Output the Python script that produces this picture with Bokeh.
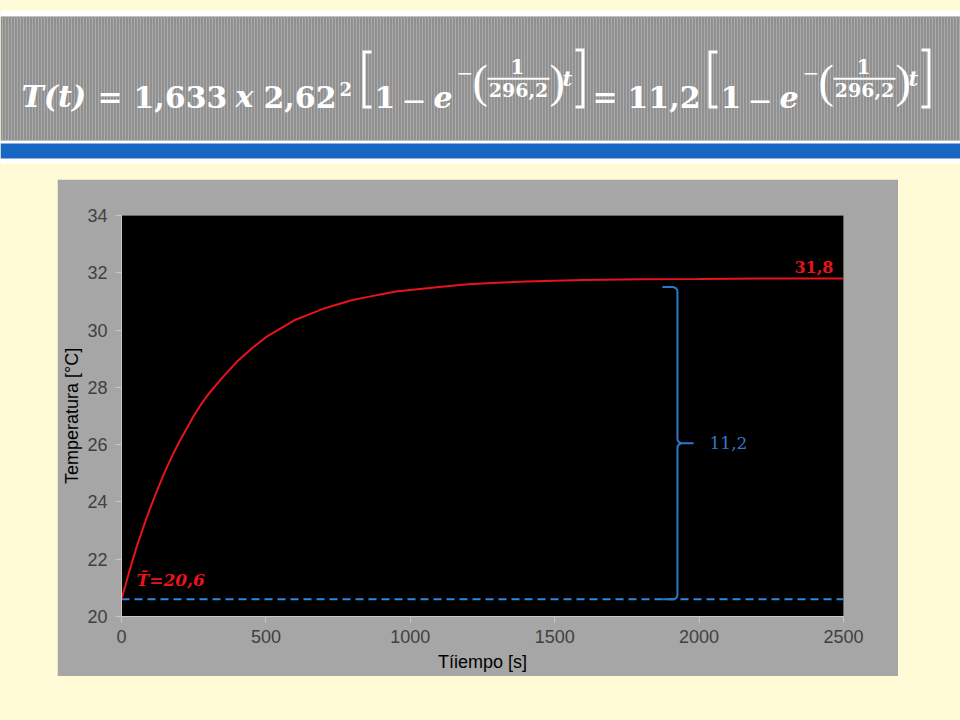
from bokeh.plotting import figure
from bokeh.models import Range1d, Label, Spacer
from bokeh.layouts import column, row
from bokeh.embed import file_html
from bokeh.resources import INLINE

# ---------------- data ----------------
time_s = [0, 25, 50, 75, 100, 125, 150, 175, 200, 225, 250, 275, 300, 325, 350,
          400, 450, 500, 550, 600, 650, 700, 750, 800, 850, 900, 950, 1000,
          1100, 1200, 1300, 1400, 1600, 1800, 2000, 2250, 2500]
temp_c = [20.6, 21.5, 22.35, 23.1, 23.8, 24.45, 25.05, 25.6, 26.1, 26.55, 27.0,
          27.4, 27.75, 28.05, 28.35, 28.9, 29.35, 29.75, 30.05, 30.35, 30.55,
          30.75, 30.9, 31.05, 31.15, 31.25, 31.35, 31.4, 31.5, 31.6, 31.65,
          31.7, 31.75, 31.77, 31.78, 31.8, 31.8]
t_mean = 20.6           # T-bar
t_final = 31.8          # final temperature
mean_label = "T\u0304=20,6"
final_label = "31,8"
delta_label = "11,2"
brace_time = 1925       # where the brace is drawn
brace_top = 31.5
x_ticks = [0, 500, 1000, 1500, 2000, 2500]
y_ticks = [20, 22, 24, 26, 28, 30, 32, 34]

CREAM = "#FEFBD6"
PANEL = "#A6A6A6"
RED = "#E8141B"
BLUE_DASH = "#2F88DC"
BLUE = "#2E78C8"
SERIF = "DejaVu Serif"

# ================= header (equation banner) =================
HW, HH = 960, 179
h = figure(width=HW, height=HH, output_backend="svg", toolbar_location=None,
           x_range=Range1d(0, HW), y_range=Range1d(HH, 0),
           x_axis_location=None, y_axis_location=None,
           min_border=0, min_border_left=0, min_border_right=0,
           min_border_top=0, min_border_bottom=0)
h.background_fill_color = CREAM
h.border_fill_color = CREAM
h.outline_line_color = None
h.grid.visible = False

h.quad(left=0, right=HW, top=10, bottom=163, fill_color="white", line_color=None)
h.quad(left=0, right=HW, top=16, bottom=140, fill_color="#8E8E8E", line_color=None,
       hatch_pattern="|", hatch_color="#ABABAB", hatch_scale=3, hatch_weight=1.2)
h.quad(left=0, right=HW, top=143, bottom=158, fill_color="#1666C2", line_color=None)


def hl(text, x, y, size, style="bold", align="left", font=SERIF):
    h.add_layout(Label(x=x, y=y, text=text, text_font=font,
                       text_font_size=f"{size}px", text_font_style=style,
                       text_color="white", text_align=align,
                       text_baseline="middle"))


def bracket(x0, x1, top, bot, left=True, th=3):
    if left:
        xs = [x0, x1, x1, x0 + th, x0 + th, x1, x1, x0]
    else:
        xs = [x1, x0, x0, x1 - th, x1 - th, x0, x0, x1]
    ys = [top, top, top + th, top + th, bot - th, bot - th, bot, bot]
    h.patch(xs, ys, fill_color="white", line_color=None)


MID = 96      # vertical centre of the main line
FS = 30       # main font size
hl("T(t)", 21, MID, FS, "bold italic")
hl("=", 97, MID, FS)
hl("1,633", 133, MID, FS)
hl("x", 235, MID, FS, "bold italic")
hl("2,62", 263, MID, FS)
hl("2", 339, 88, 18)


def exp_block(xb):
    bracket(xb, xb + 9, 50, 108, left=True)
    hl("1", xb + 12, MID, FS)
    hl("\u2212", xb + 39, 99, FS, "normal")
    hl("e", xb + 71, MID, FS, "bold italic")
    hl("\u2212", xb + 94, 72, 20, "normal")
    hl("(", xb + 110, 81, 46, "normal", font="Liberation Serif")
    hl("1", xb + 155, 65.5, 20, align="center")
    h.quad(left=xb + 125, right=xb + 187, top=77.3, bottom=79.3,
           fill_color="white", line_color=None)
    hl("296,2", xb + 156, 89.5, 19, align="center")
    hl(")", xb + 187, 81, 46, "normal", font="Liberation Serif")
    hl("t", xb + 200, 78, 21, "bold italic")
    bracket(xb + 213, xb + 222, 48, 108, left=False)


exp_block(362)
hl("=", 592, MID, FS)
hl("11,2", 627, MID, FS)
exp_block(708)

# ================= chart =================
PX0, PY0, PX1, PY1 = 57, 179, 898, 676       # grey panel on the slide
FX0, FY0, FX1, FY1 = 121, 215, 843, 616      # black plot area on the slide

p = figure(width=PX1 - PX0, height=PY1 - PY0, output_backend="svg",
           toolbar_location=None,
           x_range=Range1d(0, 2500), y_range=Range1d(20, 34),
           min_border_left=FX0 - PX0, min_border_right=PX1 - FX1,
           min_border_top=FY0 - PY0, min_border_bottom=PY1 - FY1)
p.border_fill_color = PANEL
p.background_fill_color = "black"
p.outline_line_color = None
p.grid.visible = False

p.line([0, 2500], [t_mean, t_mean], line_color=BLUE_DASH, line_width=2,
       line_dash="8 5")
p.line(time_s, temp_c, line_color=RED, line_width=2)

# curly brace from T-bar up to the final level
lo, hi = t_mean, brace_top
mid = (lo + hi) / 2
b = brace_time
bx = [b - 52, b - 14, b - 5, b - 1, b, b, b + 1, b + 5, b + 14, b + 56,
      b + 14, b + 5, b + 1, b, b, b - 1, b - 5, b - 14, b - 52]
by = [hi, hi, hi - 0.04, hi - 0.1, hi - 0.17, mid + 0.17, mid + 0.1, mid + 0.04, mid, mid,
      mid, mid - 0.04, mid - 0.1, mid - 0.17, lo + 0.17, lo + 0.1, lo + 0.04, lo, lo]
p.line(bx, by, line_color=BLUE, line_width=2)

p.add_layout(Label(x=b + 111, y=mid, text=delta_label, text_font=SERIF,
                   text_font_size="17px", text_color=BLUE, text_baseline="middle"))
p.add_layout(Label(x=2465, y=t_final, y_offset=6, text=final_label, text_font=SERIF,
                   text_font_size="16px", text_font_style="bold", text_color=RED,
                   text_align="right"))
p.add_layout(Label(x=52, y=t_mean, y_offset=9, text=mean_label, text_font=SERIF,
                   text_font_size="17px", text_font_style="bold italic",
                   text_color=RED))

p.xaxis.ticker = x_ticks
p.yaxis.ticker = y_ticks
for ax in (p.xaxis[0], p.yaxis[0]):
    ax.axis_line_color = "#C8C8C8"
    ax.major_tick_line_color = "#C8C8C8"
    ax.major_tick_in = 0
    ax.major_tick_out = 6
    ax.minor_tick_line_color = None
    ax.major_label_text_font = "Liberation Sans"
    ax.major_label_text_font_size = "18px"
    ax.major_label_text_color = "#404040"
    ax.axis_label_text_font = "Liberation Sans"
    ax.axis_label_text_font_size = "18px"
    ax.axis_label_text_font_style = "normal"
    ax.axis_label_text_color = "black"
p.xaxis.axis_label = "Tíiempo [s]"
p.yaxis.axis_label = "Temperatura [°C]"
p.xaxis.major_label_standoff = 7
p.yaxis.major_label_standoff = 8
p.xaxis.axis_label_standoff = 6
p.yaxis.axis_label_standoff = 2

cream_style = {"background-color": CREAM}
chart_row = row(Spacer(width=PX0, height=PY1 - PY0, styles=cream_style), p,
                Spacer(width=960 - PX1, height=PY1 - PY0, styles=cream_style),
                styles=cream_style)
page = column(h, chart_row, Spacer(width=960, height=720 - PY1, styles=cream_style),
              styles=cream_style)

open("out.html", "w").write(file_html(page, INLINE))
